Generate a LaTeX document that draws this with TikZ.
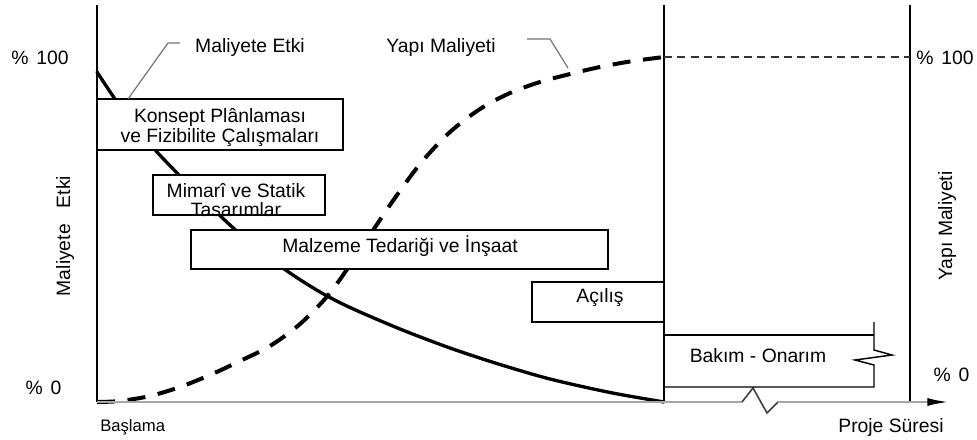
\documentclass[tikz,border=0pt]{standalone}
\usepackage{fontspec}
\setmainfont{Liberation Sans}
\usetikzlibrary{arrows.meta,fit}
\begin{document}
\begin{tikzpicture}[x=0.75pt,y=-0.75pt,
  lbl/.style={font=\fontsize{14.5}{16}\selectfont, inner sep=0pt, anchor=base},
  small/.style={font=\fontsize{12.5}{14}\selectfont, inner sep=0pt, anchor=base},
  stagebox/.style={draw=black, line width=1.1pt, fill=white, inner sep=0pt},
  boxline/.style={draw=black, line width=1.1pt},
  axisline/.style={line width=1.4pt},
  leader/.style={draw=black!55, line width=0.9pt},
  impact/.style={line width=2.5pt, line cap=round},
  costcurve/.style={line width=3pt, dash pattern=on 13.5pt off 9.5pt},
  guide/.style={draw=black!80, line width=1pt, dash pattern=on 6pt off 4pt},
  timeaxis/.style={draw=black!35, line width=2pt},
  breakline/.style={draw=black!75, line width=1.2pt, line join=miter},
]
\useasboundingbox (0,0) rectangle (977,439);

% building cost curve (dashed S-curve)
\draw[costcurve] plot[smooth, tension=0.5] coordinates {
  (97,402) (120,401) (150,396) (180,387) (210,375) (240,361) (270,346)
  (300,324) (330,293) (360,250) (390,205) (420,164) (450,132) (480,109)
  (510,93) (540,82) (570,74) (600,67) (630,61.5) (664,57)};

% ability to influence cost (solid decreasing curve)
\draw[impact] plot[smooth, tension=0.5] coordinates {
  (97,72) (115,99) (135,126) (157,152) (180,176) (205,201) (230,225)
  (260,251) (290,273) (320,292) (350,307.5) (400,329) (450,348)
  (500,364.5) (550,379) (610,392.5) (664,402)};

% axes and phase limits
\coordinate (lt) at (97,5);   \coordinate (lb) at (97,402);
\coordinate (mt) at (664,5);  \coordinate (mb) at (664,402);
\coordinate (rt) at (910,5);  \coordinate (rb) at (910,402);
\draw[axisline] (lt) -- (lb);
\draw[axisline] (mt) -- (mb);
\draw[axisline] (rt) -- (rb);

% 100 % reference line
\coordinate (g1) at (664,57); \coordinate (g2) at (910,57);
\draw[guide] (g1) -- (g2);

% time axis with break
\coordinate (zb) at (742,402); \coordinate (z1) at (753,388);
\coordinate (z2) at (767,413); \coordinate (ze) at (778,402);
\coordinate (tip) at (950,402);
\draw[timeaxis] (lb) -- (zb);
\draw[breakline] (zb) -- (z1) -- (z2) -- (ze);
\draw[timeaxis, -{Latex[length=17pt,width=6pt,color=black]}] (ze) -- (tip);

% phase boxes
\node[stagebox, fit={(97,99) (343,150)}] (konsept) {};
\node[lbl] (konseptA) at (220,122) {Konsept Plânlaması};
\node[lbl] (konseptB) at (220,142) {ve Fizibilite Çalışmaları};

\node[stagebox, fit={(153,175) (325,215)}] (mimari) {};
\node[lbl] (mimariA) at (236,197) {Mimarî ve Statik};
\node[lbl] (mimariB) at (236,216) {Tasarımlar};
\draw[boxline] (mimari.south west) rectangle (mimari.north east);

\node[stagebox, fit={(191,230) (608,269)}] (malzeme) {};
\node[lbl] (malzemeT) at (400,252) {Malzeme Tedariği ve İnşaat};

\node[stagebox, fit={(532,282) (664,322)}] (acilis) {};
\node[lbl] (acilisT) at (600,302) {Açılış};

% maintenance phase, open-ended with a break
\coordinate (b0) at (664,335); \coordinate (b1) at (874,335);
\coordinate (b1a) at (874,322); \coordinate (b2) at (874,350);
\coordinate (b3) at (892,355); \coordinate (b4) at (855,360);
\coordinate (b5) at (874,365); \coordinate (b6) at (874,387);
\coordinate (b7) at (664,387);
\draw[boxline] (b0) -- (b1);
\draw[boxline, line join=miter] (b1a) -- (b2) -- (b3) -- (b4) -- (b5) -- (b6) -- (b7);
\node[lbl] (bakim) at (758,362) {Bakım - Onarım};

% curve labels with leaders
\node[lbl] (etkiLbl) at (250,52) {Maliyete Etki};
\coordinate (e1) at (180,43); \coordinate (e2) at (168,43); \coordinate (e3) at (128,99);
\draw[leader] (e1) -- (e2) -- (e3);

\node[lbl] (yapiLbl) at (441,52) {Yapı Maliyeti};
\coordinate (y1) at (527,39); \coordinate (y2) at (550,39); \coordinate (y3) at (568,68);
\draw[leader] (y1) -- (y2) -- (y3);

% scale labels
\node[lbl] (l100) at (40,64) {\%\hspace{0.4em}100};
\node[lbl] (l0) at (43.5,394) {\%\hspace{0.4em}0};
\node[lbl] (r100) at (945,64) {\%\hspace{0.4em}100};
\node[lbl] (r0) at (951.5,381) {\%\hspace{0.4em}0};

% axis titles
\node[lbl, rotate=90] (ltitle) at (70,236) {Maliyete\hspace{12pt}Etki};
\node[lbl, rotate=90] (rtitle) at (952,226) {Yapı Maliyeti};
\node[small, anchor=base west] (start) at (100,431) {Başlama};
\node[lbl] (dur) at (891,432) {Proje Süresi};
\end{tikzpicture}
\end{document}
